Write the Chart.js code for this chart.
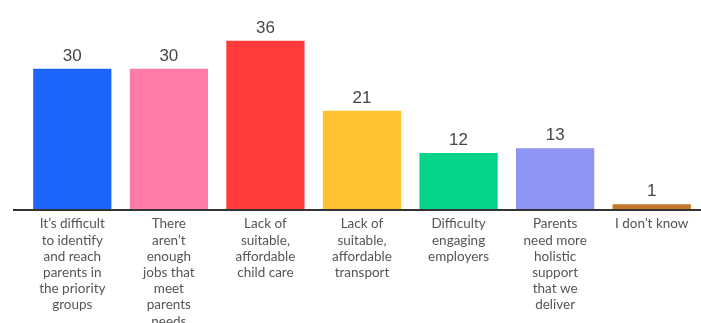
<!DOCTYPE html>
<html>
<head>
<meta charset="utf-8">
<script src="https://cdn.jsdelivr.net/npm/chart.js@4"></script>
<style>
  html, body { margin: 0; padding: 0; background: #ffffff; }
  #wrap { width: 701px; height: 323px; position: relative; }
</style>
</head>
<body>
<div id="wrap"><canvas id="c" width="701" height="323"></canvas></div>
<script>
const categories = [
  ["It\u2019s difficult", "to identify", "and reach", "parents in", "the priority", "groups"],
  ["There", "aren\u2019t", "enough", "jobs that", "meet", "parents", "needs"],
  ["Lack of", "suitable,", "affordable", "child care"],
  ["Lack of", "suitable,", "affordable", "transport"],
  ["Difficulty", "engaging", "employers"],
  ["Parents", "need more", "holistic", "support", "that we", "deliver"],
  ["I don\u2019t know"]
];
const values = [30, 30, 36, 21, 12, 13, 1];
const barColors = ["#1d64fb", "#ff7ba8", "#ff3b3b", "#ffc12f", "#04d389", "#8e94f1", "#c3782c"];

const valueLabels = {
  id: 'valueLabels',
  afterDatasetsDraw(chart) {
    const ctx = chart.ctx;
    const meta = chart.getDatasetMeta(0);
    ctx.save();
    ctx.font = '17px "Liberation Sans", Arial, sans-serif';
    ctx.fillStyle = '#474747';
    ctx.textAlign = 'center';
    ctx.textBaseline = 'alphabetic';
    meta.data.forEach((bar, i) => {
      ctx.fillText(String(chart.data.datasets[0].data[i]), bar.x, bar.y - 8);
    });
    ctx.restore();
  }
};

const baseLine = {
  id: 'baseLine',
  afterDatasetsDraw(chart) {
    const ctx = chart.ctx;
    const y = chart.scales.y.getPixelForValue(0);
    ctx.save();
    ctx.strokeStyle = '#333333';
    ctx.lineWidth = 2;
    ctx.beginPath();
    ctx.moveTo(13, y + 1);
    ctx.lineTo(chart.width, y + 1);
    ctx.stroke();
    ctx.restore();
  }
};

new Chart(document.getElementById('c'), {
  type: 'bar',
  data: {
    labels: categories,
    datasets: [{
      data: values,
      backgroundColor: barColors,
      borderWidth: 0,
      categoryPercentage: 1.0,
      barPercentage: 0.81
    }]
  },
  options: {
    responsive: false,
    animation: false,
    devicePixelRatio: 1,
    layout: { padding: { left: 24, right: 1, top: 22, bottom: 0 } },
    plugins: { legend: { display: false }, tooltip: { enabled: false } },
    scales: {
      y: { display: false, min: 0, max: 40 },
      x: {
        grid: { display: false, drawTicks: false },
        border: { display: false },
        ticks: {
          autoSkip: false,
          maxRotation: 0,
          minRotation: 0,
          padding: 7,
          color: '#555555',
          font: { family: 'Lato, "Noto Sans", sans-serif', size: 13.5, lineHeight: 1.2 }
        },
        afterFit(scale) { scale.height = 114; }
      }
    }
  },
  plugins: [valueLabels, baseLine]
});
</script>
</body>
</html>
